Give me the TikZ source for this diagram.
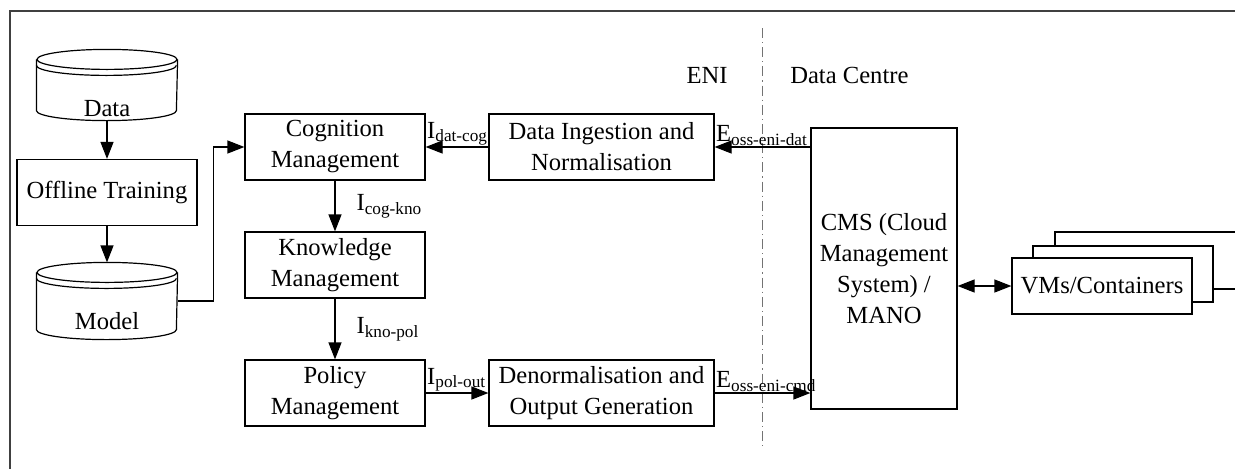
\documentclass[tikz,border=0pt]{standalone}
\usepackage{fontspec}
\setmainfont{Liberation Serif}
\usetikzlibrary{arrows.meta,positioning,calc}

\begin{document}
\begin{tikzpicture}[x=0.5pt, y=0.5pt, line width=0.6pt,
  >={Triangle[length=8.5pt,width=6.5pt]}, font=\fontsize{12.3}{15.5}\selectfont]
\tikzstyle{blk}=[rectangle, draw, fill=white, minimum width=90pt,
                 minimum height=33pt, align=center, inner sep=1pt]
\tikzstyle{db}=[rectangle, minimum width=70pt, inner sep=0pt]
\tikzstyle{lbl}=[inner sep=0.5pt]
\useasboundingbox (0,0) rectangle (1235,468);
\clip (0,0) rectangle (1235,468);
\draw[black!75] (10,-10) -- (10,457) -- (1250,457);
% ENI / data centre border
\coordinate (septop) at (762,440);
\coordinate (sepbot) at (762,18);
\draw[black!55, line width=0.4pt, dash pattern=on 5pt off 2pt on 0.6pt off 2pt] (septop) -- (sepbot);
\node (ENI) at (707,393) {ENI};
\node[anchor=west] (DC) at (783,393) {Data Centre};
% data stores
\node[db, minimum height=35pt] (Dat) at (107,383) {};
\node[db, minimum height=38pt] (Mod) at (107,167) {};
\foreach \n in {Dat,Mod}{
  \draw ($(\n.north west)+(0,-10)$) -- ($(\n.south west)+(0,10)$)
    arc[start angle=180, end angle=360, x radius=70, y radius=10] -- ($(\n.north east)+(0,-10)$);
  \draw ($(\n.north)+(0,-10)$) ellipse[x radius=70, y radius=10];
  \draw ($(\n.north west)+(0,-16)$) arc[start angle=180, end angle=360, x radius=70, y radius=10];
}
\node (DatL) at (107,359) {Data};
\node (ModL) at (107,147) {Model};
% blocks
\node[blk] (Off) at (107,275.5) {Offline Training};
\node[blk] (Cog) at (335,321) {Cognition\\Management};
\node[blk] (Kno) at (335,203) {Knowledge\\Management};
\node[blk] (Pol) at (335,75) {Policy\\Management};
\node[blk, minimum width=112.5pt] (Ing) at (601.5,321) {Data Ingestion and\\Normalisation};
\node[blk, minimum width=112.5pt] (Den) at (601.5,75) {Denormalisation and\\Output Generation};
\node[blk, minimum width=73pt, minimum height=140.5pt] (CMS) at (884,199.5) {CMS (Cloud\\Management\\System) /\\MANO};
\node[blk, minimum width=95pt, minimum height=28.5pt] (VMc) at (1150,207.5) {};
\node[blk, minimum height=28pt] (VMb) at (1123,194) {};
\node[blk, minimum height=28pt] (VM) at (1102,182) {VMs/Containers};
% connectors
\draw[->] (Dat) -- (Off);
\draw[->] (Off) -- (Mod);
\draw[->] (Mod.east) -- ++(36,0) |- (Cog.west);
\foreach \i/\j/\k in {Cog/Kno/cog-kno, Kno/Pol/kno-pol}{\draw[->] (\i) -- node[lbl, right=10pt]{I\textsubscript{\k}} (\j);}
\draw[->] (Ing) -- node[lbl, pos=1, anchor=south west]{I\textsubscript{dat-cog}} (Cog);
\draw[->] (CMS.west |- Ing.east) -- node[lbl, pos=1, anchor=south west]{E\textsubscript{oss-eni-dat}} (Ing.east);
\draw[->] (Pol) -- node[lbl, pos=0, anchor=south west]{I\textsubscript{pol-out}} (Den);
\draw[->] (Den) -- node[lbl, pos=0, anchor=south west]{E\textsubscript{oss-eni-cmd}} (CMS.west |- Den.east);
\draw[<->] (CMS.east |- VM.west) -- (VM.west);
\end{tikzpicture}
\end{document}
